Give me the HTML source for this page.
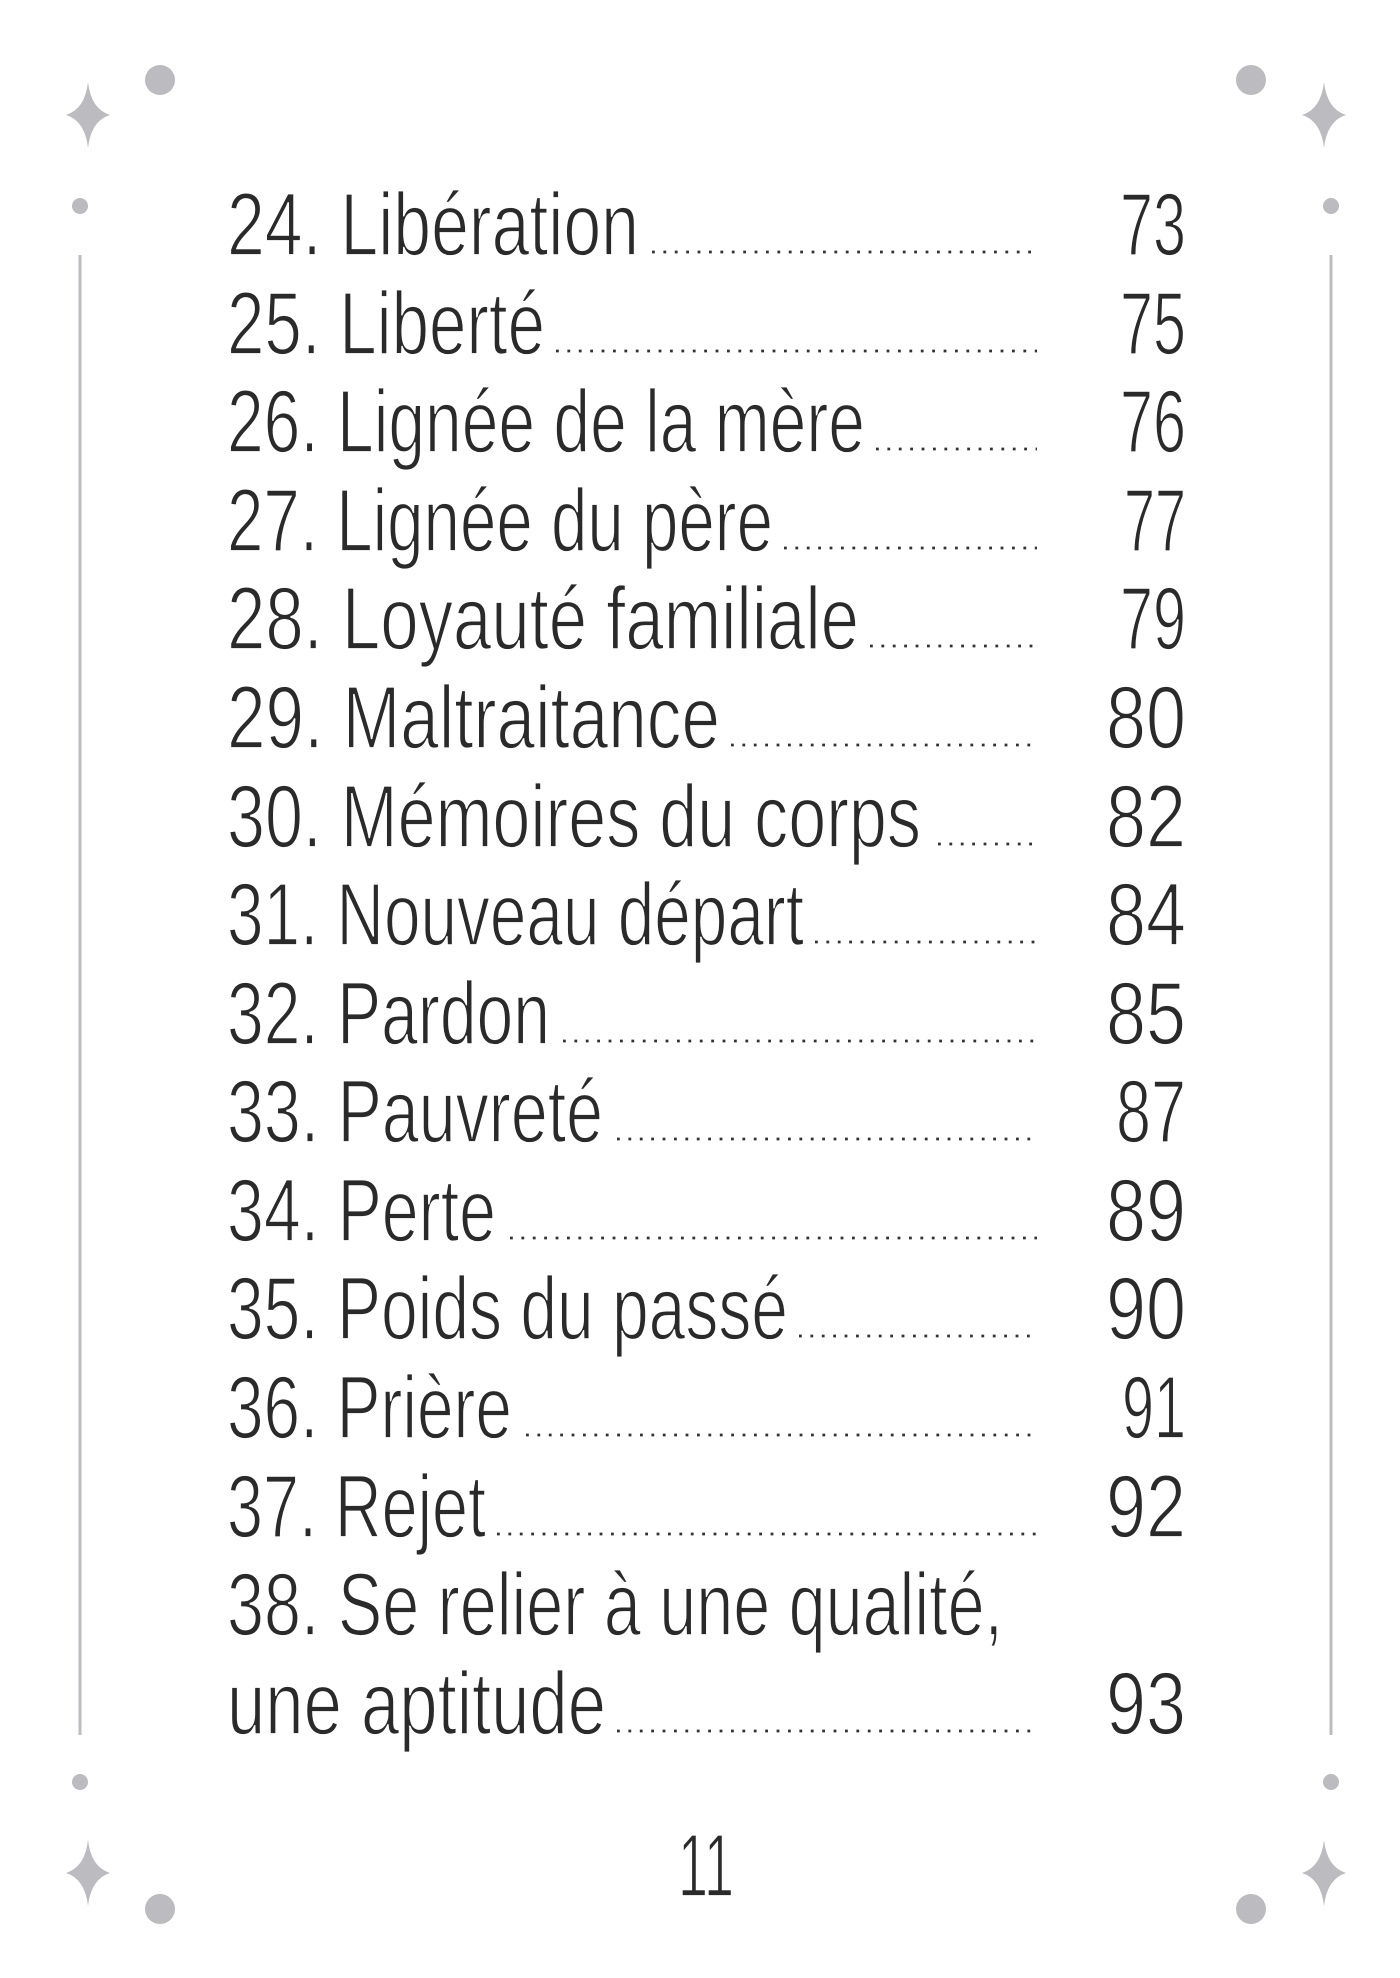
<!DOCTYPE html>
<html><head><meta charset="utf-8"><style>
html,body{margin:0;padding:0;background:#fff;}
svg{display:block;}
text{font-family:"Liberation Sans Narrow","Liberation Sans",sans-serif;fill:#2a2a2a;font-size:89px;stroke:#fff;stroke-width:1.8px;}
</style></head><body>
<svg width="1400" height="1978" viewBox="0 0 1400 1978" xmlns="http://www.w3.org/2000/svg">
<defs>
<path id="star" d="M0,-33 Q3,-6 22,0 Q3,6 0,33 Q-3,6 -22,0 Q-3,-6 0,-33 Z"/>
</defs>
<g fill="#bcbcc0">
<use href="#star" x="88" y="115"/>
<use href="#star" x="1324" y="115"/>
<use href="#star" x="88" y="1873"/>
<use href="#star" x="1324" y="1873"/>
<circle cx="160" cy="80" r="15"/>
<circle cx="1251" cy="80" r="15"/>
<circle cx="160" cy="1909" r="15"/>
<circle cx="1251" cy="1909" r="15"/>
<circle cx="80" cy="206" r="8"/>
<circle cx="1331" cy="206" r="8"/>
<circle cx="80" cy="1782" r="8"/>
<circle cx="1331" cy="1782" r="8"/>
</g>
<g stroke="#bcbcc0" stroke-width="3">
<line x1="80" y1="255" x2="80" y2="1735"/>
<line x1="1331" y1="255" x2="1331" y2="1735"/>
</g>
<g stroke="#333" stroke-width="2.8" stroke-dasharray="2.8 8.6">
<line x1="652" y1="252" x2="1037" y2="252"/>
<line x1="556" y1="351" x2="1037" y2="351"/>
<line x1="876" y1="449" x2="1037" y2="449"/>
<line x1="784" y1="548" x2="1037" y2="548"/>
<line x1="870" y1="646" x2="1037" y2="646"/>
<line x1="731" y1="745" x2="1037" y2="745"/>
<line x1="938" y1="844" x2="1037" y2="844"/>
<line x1="815" y1="942" x2="1037" y2="942"/>
<line x1="563" y1="1041" x2="1037" y2="1041"/>
<line x1="617" y1="1139" x2="1037" y2="1139"/>
<line x1="510" y1="1238" x2="1037" y2="1238"/>
<line x1="799" y1="1336" x2="1037" y2="1336"/>
<line x1="526" y1="1435" x2="1037" y2="1435"/>
<line x1="497" y1="1534" x2="1037" y2="1534"/>
<line x1="617" y1="1731" x2="1037" y2="1731"/>
</g>
<g>
<text x="227" y="255" textLength="412" lengthAdjust="spacingAndGlyphs">24. Libération</text>
<text x="227" y="354" textLength="318" lengthAdjust="spacingAndGlyphs">25. Liberté</text>
<text x="227" y="452" textLength="638" lengthAdjust="spacingAndGlyphs">26. Lignée de la mère</text>
<text x="227" y="551" textLength="546" lengthAdjust="spacingAndGlyphs">27. Lignée du père</text>
<text x="227" y="649" textLength="632" lengthAdjust="spacingAndGlyphs">28. Loyauté familiale</text>
<text x="227" y="748" textLength="493" lengthAdjust="spacingAndGlyphs">29. Maltraitance</text>
<text x="227" y="847" textLength="694" lengthAdjust="spacingAndGlyphs">30. Mémoires du corps</text>
<text x="227" y="945" textLength="577" lengthAdjust="spacingAndGlyphs">31. Nouveau départ</text>
<text x="227" y="1044" textLength="323" lengthAdjust="spacingAndGlyphs">32. Pardon</text>
<text x="227" y="1142" textLength="376" lengthAdjust="spacingAndGlyphs">33. Pauvreté</text>
<text x="227" y="1241" textLength="269" lengthAdjust="spacingAndGlyphs">34. Perte</text>
<text x="227" y="1339" textLength="561" lengthAdjust="spacingAndGlyphs">35. Poids du passé</text>
<text x="227" y="1438" textLength="285" lengthAdjust="spacingAndGlyphs">36. Prière</text>
<text x="227" y="1537" textLength="259" lengthAdjust="spacingAndGlyphs">37. Rejet</text>
<text x="227" y="1635" textLength="776" lengthAdjust="spacingAndGlyphs">38. Se relier à une qualité,</text>
<text x="227" y="1734" textLength="379" lengthAdjust="spacingAndGlyphs">une aptitude</text>
</g>
<g text-anchor="end">
<text x="1186" y="255" textLength="66" lengthAdjust="spacingAndGlyphs">73</text>
<text x="1186" y="354" textLength="66" lengthAdjust="spacingAndGlyphs">75</text>
<text x="1186" y="452" textLength="66" lengthAdjust="spacingAndGlyphs">76</text>
<text x="1186" y="551" textLength="62" lengthAdjust="spacingAndGlyphs">77</text>
<text x="1186" y="649" textLength="66" lengthAdjust="spacingAndGlyphs">79</text>
<text x="1186" y="748" textLength="80" lengthAdjust="spacingAndGlyphs">80</text>
<text x="1186" y="847" textLength="80" lengthAdjust="spacingAndGlyphs">82</text>
<text x="1186" y="945" textLength="80" lengthAdjust="spacingAndGlyphs">84</text>
<text x="1186" y="1044" textLength="80" lengthAdjust="spacingAndGlyphs">85</text>
<text x="1186" y="1142" textLength="70" lengthAdjust="spacingAndGlyphs">87</text>
<text x="1186" y="1241" textLength="80" lengthAdjust="spacingAndGlyphs">89</text>
<text x="1186" y="1339" textLength="80" lengthAdjust="spacingAndGlyphs">90</text>
<text x="1186" y="1438" textLength="64" lengthAdjust="spacingAndGlyphs">91</text>
<text x="1186" y="1537" textLength="80" lengthAdjust="spacingAndGlyphs">92</text>
<text x="1186" y="1734" textLength="80" lengthAdjust="spacingAndGlyphs">93</text>
</g>
<text x="706" y="1896" text-anchor="middle" textLength="56" lengthAdjust="spacingAndGlyphs">11</text>
</svg>
</body></html>
